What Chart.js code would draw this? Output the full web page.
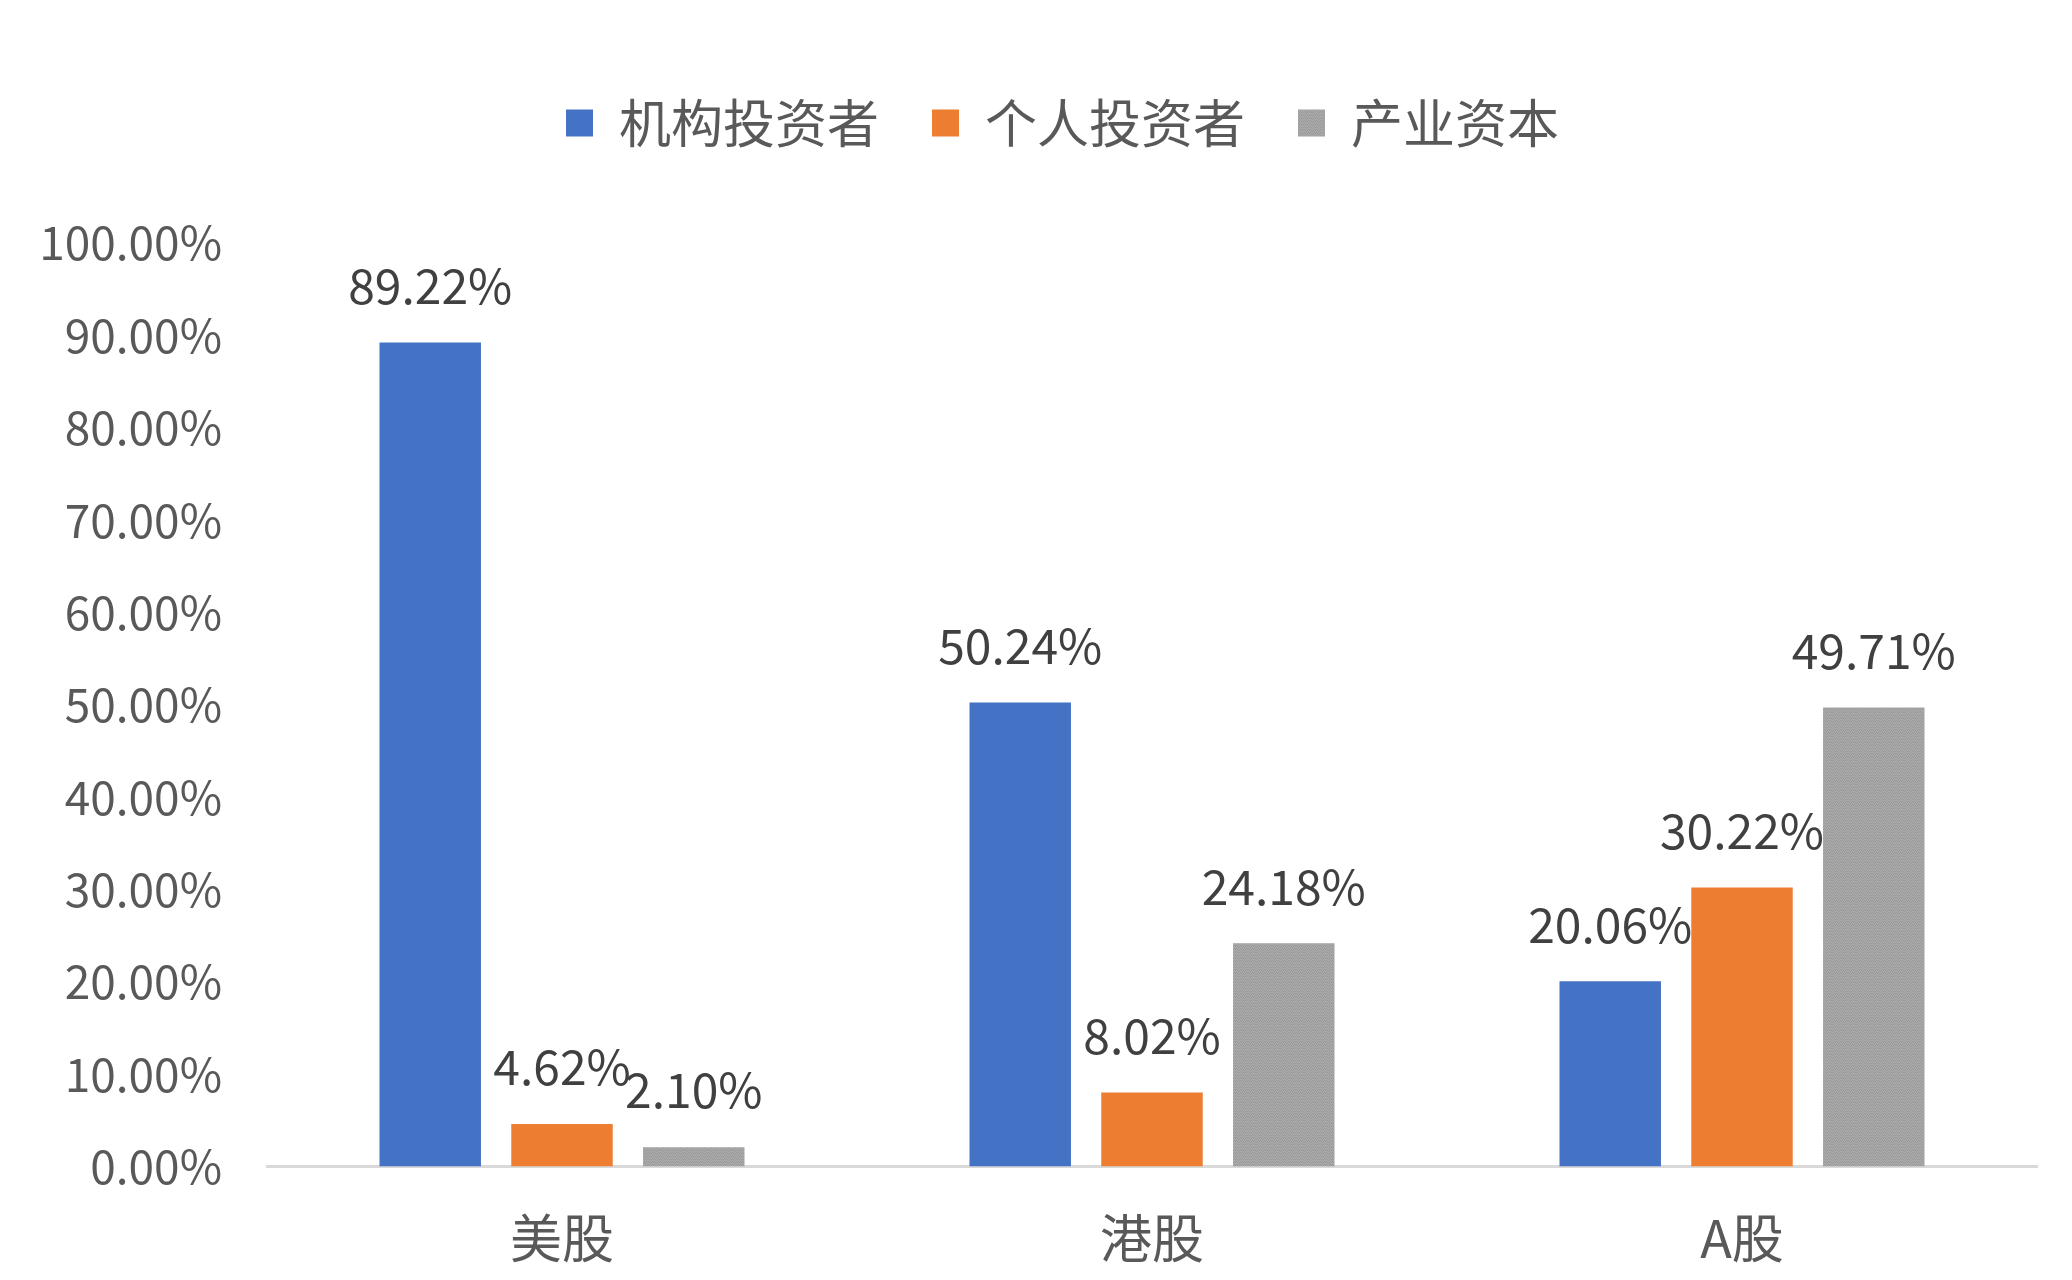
<!DOCTYPE html>
<html>
<head>
<meta charset="utf-8">
<script src="https://cdn.jsdelivr.net/npm/chart.js@4.4.0/dist/chart.umd.min.js"></script>
<style>
  html, body { margin: 0; padding: 0; background: #fff; }
  #wrap { width: 2072px; height: 1280px; }
</style>
</head>
<body>
<div id="wrap"><canvas id="chart" width="2072" height="1280"></canvas></div>
<script>
const markets = ["美股", "港股", "A股"];
const seriesNames = ["机构投资者", "个人投资者", "产业资本"];
const institutional = [89.22, 50.24, 20.06];
const individual = [4.62, 8.02, 30.22];
const industrial = [2.10, 24.18, 49.71];
const yTicks = [0, 10, 20, 30, 40, 50, 60, 70, 80, 90, 100];

const FONT = '"Noto Sans CJK SC", "Microsoft YaHei", sans-serif';

// gray bars in the source have a fine texture
function grayPattern() {
  const c = document.createElement("canvas");
  c.width = 6;
  c.height = 6;
  const g = c.getContext("2d");
  g.fillStyle = "#a8a8a8";
  g.fillRect(0, 0, 6, 6);
  g.fillStyle = "#999999";
  [[0, 0], [1, 1], [2, 2], [3, 1], [4, 0], [5, 1], [0, 3], [1, 4], [2, 5], [3, 4], [4, 3], [5, 4]]
    .forEach(p => g.fillRect(p[0], p[1], 1, 1));
  return g.createPattern(c, "repeat");
}

const valueLabels = {
  id: "valueLabels",
  afterDatasetsDraw(chart) {
    const ctx = chart.ctx;
    ctx.save();
    ctx.font = `48px ${FONT}`;
    ctx.fillStyle = "#404040";
    ctx.textAlign = "center";
    ctx.textBaseline = "middle";
    chart.data.datasets.forEach((ds, i) => {
      chart.getDatasetMeta(i).data.forEach((bar, j) => {
        ctx.fillText(ds.data[j].toFixed(2) + "%", bar.x, bar.y - 57);
      });
    });
    ctx.restore();
  }
};

// extra room under the legend, and legend nudged right like the source
const legendTweak = {
  id: "legendTweak",
  afterInit(chart) {
    const legend = chart.legend;
    const fit = legend.fit;
    legend.fit = function () {
      fit.call(this);
      this.height += 84;
    };
    const draw = legend.draw;
    legend.draw = function () {
      this.ctx.save();
      this.ctx.translate(44, 0);
      draw.call(this);
      this.ctx.restore();
    };
  }
};

const chart = new Chart(document.getElementById("chart"), {
  type: "bar",
  data: {
    labels: markets,
    datasets: [
      { label: seriesNames[0], data: institutional, backgroundColor: "#4472c4" },
      { label: seriesNames[1], data: individual, backgroundColor: "#ed7d31" },
      { label: seriesNames[2], data: industrial, backgroundColor: grayPattern() }
    ]
  },
  options: {
    responsive: false,
    devicePixelRatio: 1,
    animation: false,
    datasets: {
      bar: { categoryPercentage: 0.67, barPercentage: 0.77 }
    },
    layout: { padding: { top: 44, right: 35, bottom: 4, left: 0 } },
    plugins: {
      legend: {
        position: "top",
        labels: {
          boxWidth: 27,
          boxHeight: 27,
          padding: 53,
          color: "#595959",
          font: { family: FONT, size: 52 }
        }
      },
      tooltip: { enabled: false }
    },
    scales: {
      x: {
        afterFit: scale => { scale.height -= 33; },
        grid: { display: false, drawTicks: false },
        border: { color: "#d9d9d9", width: 3 },
        ticks: {
          color: "#595959",
          padding: 40,
          font: { family: FONT, size: 52 }
        }
      },
      y: {
        min: 0,
        max: 100,
        afterBuildTicks: scale => { scale.ticks = yTicks.map(v => ({ value: v })); },
        afterFit: scale => { scale.width = 267; },
        grid: { display: false, drawTicks: false },
        border: { display: false },
        ticks: {
          color: "#595959",
          padding: 45,
          font: { family: FONT, size: 46 },
          callback: v => v.toFixed(2) + "%"
        }
      }
    }
  },
  plugins: [valueLabels, legendTweak]
});
</script>
</body>
</html>
